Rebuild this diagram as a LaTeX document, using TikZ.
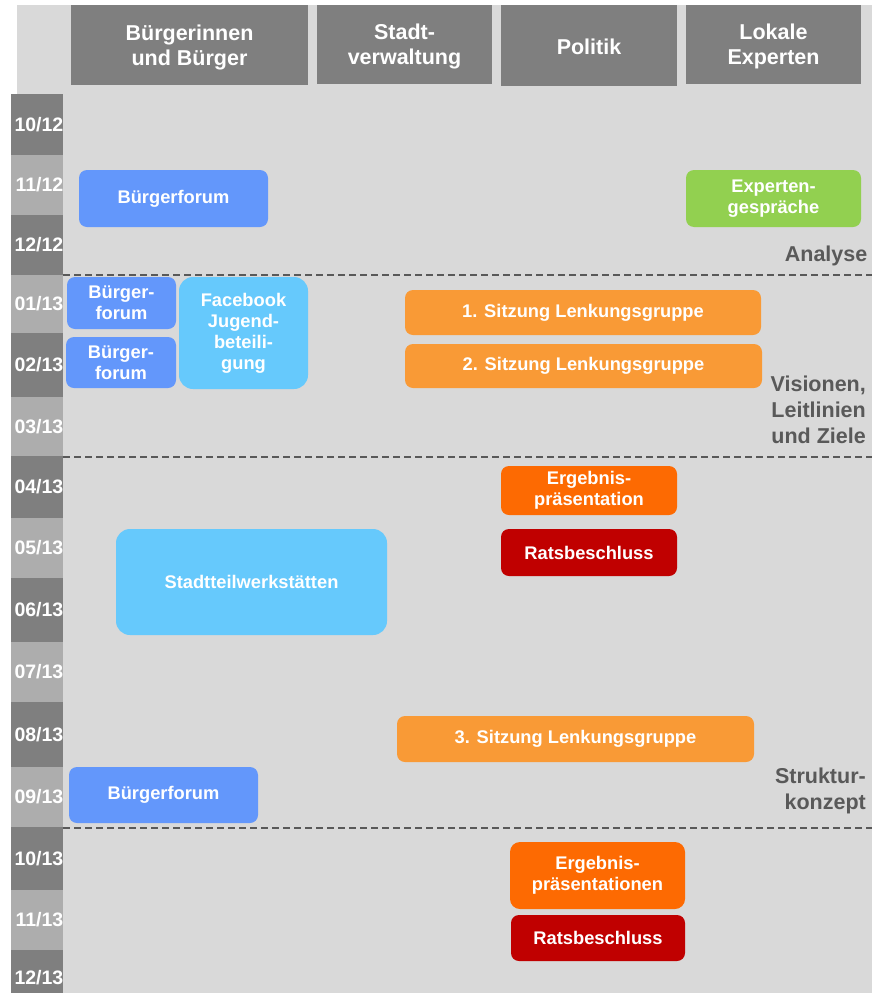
\documentclass[tikz,border=0pt]{standalone}
\usepackage{fontspec}
\setmainfont{Liberation Sans}
\definecolor{bg}{HTML}{D9D9D9}
\definecolor{hdrgray}{HTML}{7F7F7F}
\definecolor{mdark}{HTML}{7F7F7F}
\definecolor{mlight}{HTML}{ADADAD}
\definecolor{phase}{HTML}{595959}
\definecolor{cblue}{HTML}{6397FB}
\definecolor{clblue}{HTML}{66C9FC}
\definecolor{corange}{HTML}{F99A36}
\definecolor{cdorange}{HTML}{FD6A02}
\definecolor{cred}{HTML}{C00000}
\definecolor{cgreen}{HTML}{92D050}
\begin{document}
\begin{tikzpicture}[x=1pt,y=-1pt,
  hdr/.style={fill=hdrgray, inner sep=0pt, align=center, text=white,
    font=\fontsize{21.5}{25}\selectfont\bfseries},
  mlab/.style={anchor=east, inner sep=0pt, text=white,
    font=\fontsize{19.5}{22}\selectfont\bfseries},
  ev/.style={rounded corners=8pt, inner sep=0pt, align=center, text=white,
    font=\fontsize{18.3}{21}\selectfont\bfseries},
  phaselab/.style={anchor=east, inner sep=0pt, align=right, text=phase,
    font=\fontsize{21.5}{26}\selectfont\bfseries},
  sep/.style={draw=phase, line width=2pt, dash pattern=on 7pt off 4pt}]
\useasboundingbox (0,0) rectangle (877,993);
\fill[bg] (17,5) rectangle (872,993);

% headers
\node[hdr, minimum width=237pt, minimum height=80pt] (h1) at (189.5,45) {};
\node[hdr, minimum width=175pt, minimum height=79pt] (h2) at (404.5,44.5) {};
\node[hdr, minimum width=176pt, minimum height=81pt] (h3) at (589,45.5) {};
\node[hdr, minimum width=175pt, minimum height=79pt] (h4) at (773.5,44.5) {};
\node[hdr, fill=none] (t1) at (189.5,47) {Bürgerinnen\\und Bürger};
\node[hdr, fill=none] (t2) at (404.5,46.5) {Stadt-\\verwaltung};
\node[hdr, fill=none] (t3) at (589,47) {Politik};
\node[hdr, fill=none] (t4) at (773.5,46.5) {Lokale\\Experten};

% month column
\fill[mdark]  (11,94)  rectangle (63,155);
\fill[mlight] (11,155) rectangle (63,215);
\fill[mdark]  (11,215) rectangle (63,275);
\fill[mlight] (11,275) rectangle (63,333);
\fill[mdark]  (11,333) rectangle (63,397);
\fill[mlight] (11,397) rectangle (63,456);
\fill[mdark]  (11,456) rectangle (63,518);
\fill[mlight] (11,518) rectangle (63,578);
\fill[mdark]  (11,578) rectangle (63,642);
\fill[mlight] (11,642) rectangle (63,702);
\fill[mdark]  (11,702) rectangle (63,767);
\fill[mlight] (11,767) rectangle (63,827);
\fill[mdark]  (11,827) rectangle (63,890);
\fill[mlight] (11,890) rectangle (63,950);
\fill[mdark]  (11,950) rectangle (63,993);

\node[mlab] (m1) at (63.5,124.5) {10/12};
\node[mlab] (m2) at (63.5,185) {11/12};
\node[mlab] (m3) at (63.5,245) {12/12};
\node[mlab] (m4) at (63.5,304) {01/13};
\node[mlab] (m5) at (63.5,365) {02/13};
\node[mlab] (m6) at (63.5,426.5) {03/13};
\node[mlab] (m7) at (63.5,487) {04/13};
\node[mlab] (m8) at (63.5,548) {05/13};
\node[mlab] (m9) at (63.5,610) {06/13};
\node[mlab] (m10) at (63.5,672) {07/13};
\node[mlab] (m11) at (63.5,734.5) {08/13};
\node[mlab] (m12) at (63.5,797) {09/13};
\node[mlab] (m13) at (63.5,858.5) {10/13};
\node[mlab] (m14) at (63.5,920) {11/13};
\node[mlab] (m15) at (63.5,978) {12/13};

% phase separators
\draw[sep] (63,275) -- (872,275);
\draw[sep] (63,457) -- (872,457);
\draw[sep] (63,828) -- (872,828);

% phase labels
\node[phaselab] (p1) at (867.5,256) {Analyse};
\node[phaselab] (p2) at (866,410) {Visionen,\\Leitlinien\\und Ziele};
\node[phaselab] (p3) at (866,790.5) {Struktur-\\konzept};

% events
\node[ev, fill=cblue, minimum width=189pt, minimum height=57pt] (e1) at (173.5,198.5) {Bürgerforum};
\node[ev, fill=cgreen, minimum width=175pt, minimum height=57pt] (e2) at (773.5,198.5) {Experten-\\gespräche};
\node[ev, fill=cblue, minimum width=109pt, minimum height=52pt] (e3) at (121.5,303) {Bürger-\\forum};
\node[ev, fill=cblue, minimum width=110pt, minimum height=51pt] (e4) at (121,362.5) {Bürger-\\forum};
\node[ev, fill=clblue, rounded corners=14pt, minimum width=129pt, minimum height=112pt] (e5) at (243.5,333) {Facebook\\Jugend-\\beteili-\\gung};
\node[ev, fill=corange, minimum width=356pt, minimum height=45pt] (e6) at (583,312.5) {1. Sitzung Lenkungsgruppe};
\node[ev, fill=corange, minimum width=357pt, minimum height=44pt] (e7) at (583.5,366) {2. Sitzung Lenkungsgruppe};
\node[ev, fill=cdorange, minimum width=176pt, minimum height=49pt] (e8) at (589,490.5) {Ergebnis-\\präsentation};
\node[ev, fill=cred, minimum width=176pt, minimum height=47pt] (e9) at (589,552.5) {Ratsbeschluss};
\node[ev, fill=clblue, rounded corners=14pt, minimum width=271pt, minimum height=106pt] (e10) at (251.5,582) {Stadtteilwerkstätten};
\node[ev, fill=corange, minimum width=357pt, minimum height=46pt] (e11) at (575.5,739) {3. Sitzung Lenkungsgruppe};
\node[ev, fill=cblue, minimum width=189pt, minimum height=56pt] (e12) at (163.5,795) {Bürgerforum};
\node[ev, fill=cdorange, rounded corners=10pt, minimum width=175pt, minimum height=67pt] (e13) at (597.5,875.5) {Ergebnis-\\präsentationen};
\node[ev, fill=cred, minimum width=174pt, minimum height=46pt] (e14) at (598,938) {Ratsbeschluss};
\end{tikzpicture}
\end{document}
